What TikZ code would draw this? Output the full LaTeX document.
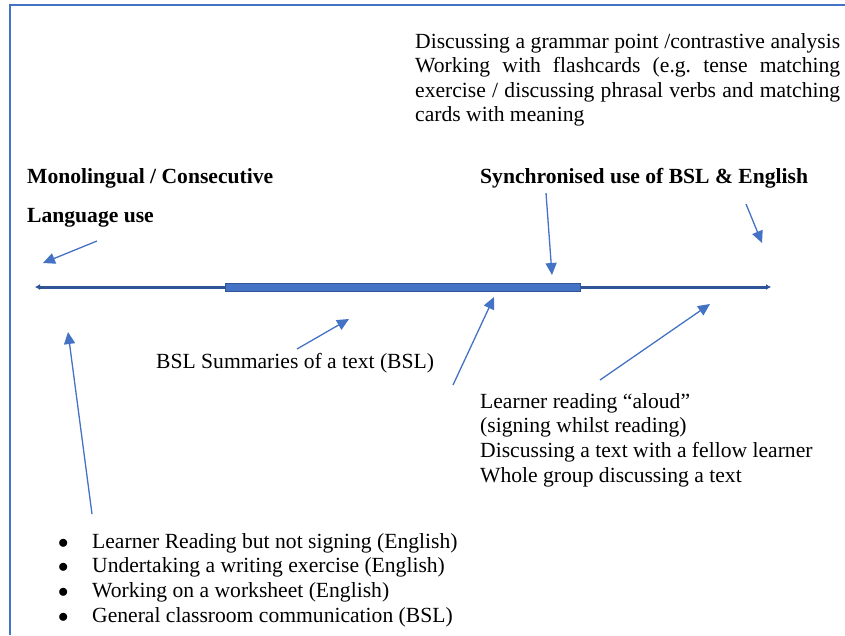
\documentclass[tikz,border=0pt]{standalone}
\usepackage{fontspec}
\setmainfont{Liberation Serif}
\usetikzlibrary{arrows.meta}
\definecolor{linkblue}{HTML}{4472C4}
\definecolor{axisblue}{HTML}{2F5597}
\newcommand{\dotitem}{\makebox[35pt][l]{\hspace{1pt}$\bullet$}}
\begin{document}
\begin{tikzpicture}[x=1pt,y=-1pt,
 every node/.style={inner sep=0pt,anchor=base west,font=\fontsize{21.6}{24.6}\selectfont\frenchspacing},
 head/.style={font=\fontsize{21.6}{24.6}\selectfont\bfseries},
 pointer/.style={draw=linkblue,line width=1.3pt,-{Triangle[length=12pt,width=11pt]}},
 axisline/.style={draw=axisblue,line width=3pt,{Latex[length=5pt,width=6pt]}-{Latex[length=5pt,width=6pt]}}]
 \useasboundingbox (0,0) rectangle (845,635);
 \draw[linkblue,line width=1.2pt](10,635)--(10,5)--(845,5);
 \node[text width=425pt,align=justify] (grammar) at (415,48) {Discussing a grammar point /contrastive analysis\linebreak Working with flashcards (e.g. tense matching\linebreak exercise / discussing phrasal verbs and matching\linebreak cards with meaning};
 \node[head] (mono) at (27,183) {Monolingual / Consecutive};
 \node[head] (lang) at (27,222) {Language use};
 \node[head] (sync) at (480,183) {Synchronised use of BSL \& English};
 \node (summary) at (156,368) {BSL Summaries of a text (BSL)};
 \node[align=left] (reading) at (480,482) {Learner reading ``aloud''\\(signing whilst reading)\\Discussing a text with a fellow learner\\Whole group discussing a text};
 \node[align=left] (list) at (57,622) {\dotitem Learner Reading but not signing (English)\\\dotitem Undertaking a writing exercise (English)\\\dotitem Working on a worksheet (English)\\\dotitem General classroom communication (BSL)};
 \coordinate (axleft) at (35,287);
 \coordinate (axright) at (771,287);
 \draw[axisline](axleft)--(axright);
 \draw[fill=linkblue,draw=axisblue,line width=1pt](225,283.5) rectangle (580,291);
 \coordinate (a1) at (97,241); \coordinate (t1) at (43,263);
 \coordinate (a2) at (92,514); \coordinate (t2) at (68,332);
 \coordinate (a3) at (297,349); \coordinate (t3) at (349,319);
 \coordinate (a4) at (453,385); \coordinate (t4) at (494,297);
 \coordinate (a5) at (600,380); \coordinate (t5) at (710,304);
 \coordinate (a6) at (546,193); \coordinate (t6) at (552,275);
 \coordinate (a7) at (746,204); \coordinate (t7) at (762,243);
 \draw[pointer](a1)--(t1);
 \draw[pointer](a2)--(t2);
 \draw[pointer](a3)--(t3);
 \draw[pointer](a4)--(t4);
 \draw[pointer](a5)--(t5);
 \draw[pointer](a6)--(t6);
 \draw[pointer](a7)--(t7);
\end{tikzpicture}
\end{document}
